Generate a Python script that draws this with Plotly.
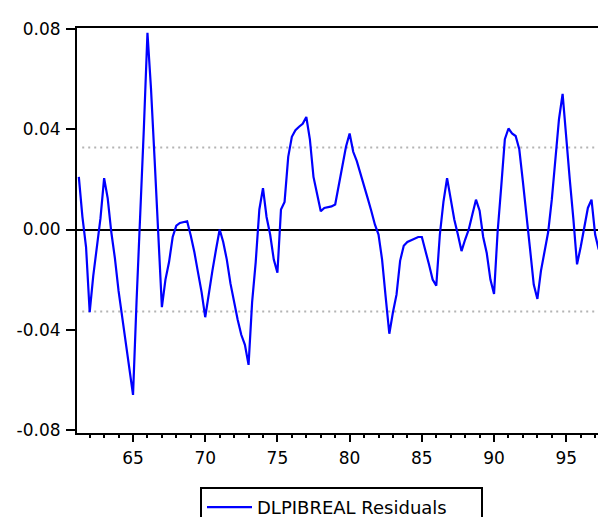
import pandas as pd
import plotly.graph_objects as go

# Quarterly residuals of DLPIBREAL, starting 1961Q2
start_period = "1961Q2"
resid = [
    0.021, 0.005, -0.007, -0.033, -0.0185, -0.0067, 0.0045, 0.0205, 0.0125, -0.001,
    -0.0115, -0.0245, -0.035, -0.0465, -0.056, -0.066, -0.0284, 0.0033, 0.040, 0.0785,
    0.056, 0.028, -0.0015, -0.031, -0.020, -0.013, -0.003, 0.0015, 0.0026, 0.003,
    0.0033, -0.0025, -0.009, -0.017, -0.025, -0.035, -0.025, -0.0165, -0.008, 0.0,
    -0.005, -0.012, -0.0215, -0.029, -0.036, -0.042, -0.046, -0.054, -0.029, -0.013,
    0.008, 0.0165, 0.005, -0.002, -0.012, -0.0172, 0.008, 0.011, 0.029, 0.037,
    0.0396, 0.041, 0.0422, 0.0449, 0.036, 0.021, 0.014, 0.0073, 0.0086, 0.0088,
    0.0092, 0.010, 0.018, 0.0245, 0.033, 0.0383, 0.031, 0.0273, 0.022, 0.017,
    0.0125, 0.0075, 0.002, -0.002, -0.012, -0.027, -0.0416, -0.033, -0.026, -0.0125,
    -0.0065, -0.005, -0.0043, -0.0038, -0.003, -0.003, -0.008, -0.014, -0.020, -0.0224,
    -0.002, 0.011, 0.0205, 0.012, 0.004, -0.002, -0.0086, -0.004, 0.0, 0.006,
    0.0119, 0.0075, -0.003, -0.0095, -0.020, -0.0257, -0.001, 0.017, 0.036, 0.0403,
    0.0383, 0.0373, 0.032, 0.019, 0.004, -0.008, -0.022, -0.0277, -0.0165, -0.008,
    -0.001, 0.012, 0.027, 0.044, 0.0541, 0.035, 0.0198, 0.004, -0.0139, -0.007,
    0.001, 0.0086, 0.0119, -0.002, -0.008,
]
series_name = "DLPIBREAL Residuals"
se_band = 0.0327

y_tickvals = [-0.08, -0.04, 0.0, 0.04, 0.08]
y_ticktext = ["-0.08", "-0.04", "0.00", "0.04", "0.08"]
x_tick_years = [1965, 1970, 1975, 1980, 1985, 1990, 1995]
x_ticktext = ["65", "70", "75", "80", "85", "90", "95"]

dates = pd.period_range(start_period, periods=len(resid), freq="Q").to_timestamp()

font_family = "DejaVu Sans"

fig = go.Figure()
fig.add_trace(go.Scatter(
    x=dates, y=resid, mode="lines", name=series_name,
    line=dict(color="#0000ff", width=2.2),
    showlegend=True,
))

for lvl in (se_band, -se_band):
    fig.add_shape(type="line", xref="paper", x0=0.01, x1=1, yref="y", y0=lvl, y1=lvl,
                  line=dict(color="#b4b4b4", width=2, dash="2px,4px"), layer="below")

fig.update_layout(
    width=598, height=517,
    margin=dict(l=77, r=0, t=28, b=84, autoexpand=False),
    paper_bgcolor="white", plot_bgcolor="white",
    font=dict(family=font_family, size=17, color="black"),
    showlegend=True,
    legend=dict(
        orientation="h", x=(200 - 77) / 521, xanchor="left",
        y=(433 - 487) / 405, yanchor="top",
        bordercolor="black", borderwidth=2, bgcolor="white",
        entrywidth=219, entrywidthmode="pixels", itemwidth=45,
        font=dict(family=font_family, size=18, color="black"),
    ),
    xaxis=dict(
        type="date",
        range=["1961-02-14", "1997-03-14"],
        tickvals=[pd.Timestamp(f"{y}-01-01") for y in x_tick_years],
        ticktext=x_ticktext,
        ticks="outside", ticklen=7, tickwidth=2, tickcolor="black",
        ticklabelstandoff=2,
        minor=dict(ticks="outside", ticklen=3, tickwidth=2, tickcolor="black",
                   dtick="M12", tick0="1961-01-01", showgrid=False),
        showgrid=False, zeroline=False,
        showline=True, linewidth=2, linecolor="black", mirror=True,
        tickfont=dict(family=font_family, size=17, color="black"),
    ),
    yaxis=dict(
        range=[-0.0812, 0.0804],
        tickvals=y_tickvals, ticktext=y_ticktext,
        ticks="outside", ticklen=9, tickwidth=2, tickcolor="black",
        ticklabelstandoff=2,
        showgrid=False,
        zeroline=True, zerolinecolor="black", zerolinewidth=2,
        showline=True, linewidth=2, linecolor="black", mirror=False,
        tickfont=dict(family=font_family, size=17, color="black"),
    ),
)

fig.write_html("out.html")
